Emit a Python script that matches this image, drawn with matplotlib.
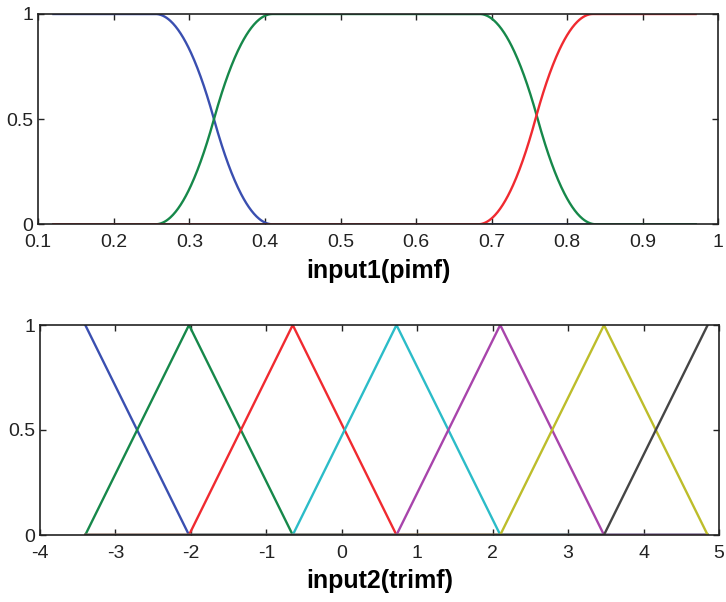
import numpy as np
import matplotlib
matplotlib.use("Agg")
import matplotlib.pyplot as plt

# ---- data ----
# input1: pi-shaped membership functions (range 0.12 .. 0.97)
in1_range = [0.12, 0.97]
in1_zmf = [0.255, 0.41]                 # blue (zmf: a, b)
in1_pimf = [0.255, 0.41, 0.684, 0.838]  # green (pimf: a, b, c, d)
in1_smf = [0.682, 0.834]                # red (smf: a, b)
in1_colors = ["#3a4fb0", "#16884a", "#f02a30"]
in1_xticks = [0.1, 0.2, 0.3, 0.4, 0.5, 0.6, 0.7, 0.8, 0.9, 1.0]
in1_xticklabels = ["0.1", "0.2", "0.3", "0.4", "0.5", "0.6", "0.7", "0.8", "0.9", "1"]

# input2: triangular membership functions, peaks (range -3.4 .. 4.85)
in2_range = [-3.4, 4.85]
in2_peaks = [-3.4, -2.025, -0.65, 0.725, 2.1, 3.475, 4.85]
in2_colors = ["#3a4fb0", "#16884a", "#f02a30", "#2bbcc8", "#a844ab", "#bdbd2a", "#454545"]
in2_xticks = [-4, -3, -2, -1, 0, 1, 2, 3, 4, 5]
in2_xticklabels = ["-4", "-3", "-2", "-1", "0", "1", "2", "3", "4", "5"]

y_ticks = [0, 0.5, 1]
y_ticklabels = ["0", "0.5", "1"]


def smf(x, a, b):
    m = (a + b) / 2.0
    y = np.zeros_like(x)
    y[x >= b] = 1.0
    i1 = (x > a) & (x <= m)
    y[i1] = 2 * ((x[i1] - a) / (b - a)) ** 2
    i2 = (x > m) & (x < b)
    y[i2] = 1 - 2 * ((x[i2] - b) / (b - a)) ** 2
    return y


def zmf(x, a, b):
    return 1.0 - smf(x, a, b)


def pimf(x, a, b, c, d):
    return np.minimum(smf(x, a, b), zmf(x, c, d))


def trimf(x, a, b, c):
    left = (x - a) / (b - a)
    right = (c - x) / (c - b)
    return np.clip(np.minimum(left, right), 0, 1)


plt.rcParams['font.family'] = ['Liberation Sans', 'DejaVu Sans']

fig = plt.figure(figsize=(7.26, 6.02), dpi=100)
W, H = 726.0, 602.0
ax1 = fig.add_axes([38.3 / W, 1 - 224.3 / H, 680 / W, 210.3 / H])
ax2 = fig.add_axes([40 / W, 1 - 535 / H, 679 / W, 210 / H])

lw = 1.7

# top plot
x1 = np.linspace(in1_range[0], in1_range[1], 1000)
ax1.plot(x1, zmf(x1, *in1_zmf), color=in1_colors[0], lw=lw)
ax1.plot(x1, pimf(x1, *in1_pimf), color=in1_colors[1], lw=lw)
ax1.plot(x1, smf(x1, *in1_smf), color=in1_colors[2], lw=lw)
ax1.set_xlim(0.1, 1.0)
ax1.set_xticks(in1_xticks)
ax1.set_xticklabels(in1_xticklabels)

# bottom plot
x2 = np.linspace(in2_range[0], in2_range[1], 2000)
step = in2_peaks[1] - in2_peaks[0]
for i, p in enumerate(in2_peaks):
    a = in2_peaks[i - 1] if i > 0 else p - step
    c = in2_peaks[i + 1] if i < len(in2_peaks) - 1 else p + step
    ax2.plot(x2, trimf(x2, a, p, c), color=in2_colors[i], lw=lw)
ax2.set_xlim(-4, 5)
ax2.set_xticks(in2_xticks)
ax2.set_xticklabels(in2_xticklabels)

for ax in (ax1, ax2):
    ax.set_ylim(0, 1)
    ax.set_yticks(y_ticks)
    ax.set_yticklabels(y_ticklabels)
    ax.tick_params(direction='in', length=4, width=1, top=True, right=True,
                   labelsize=14, colors='#222222')
    ax.tick_params(axis='x', pad=7)
    ax.tick_params(axis='y', pad=3.5)
    for s in ax.spines.values():
        s.set_color('#222222')
        s.set_linewidth(1.2)

ax1.set_xlabel("input1(pimf)", fontsize=18, fontweight='bold')
ax1.xaxis.set_label_coords(0.5, -0.165)
ax2.set_xlabel("input2(trimf)", fontsize=18, fontweight='bold')
ax2.xaxis.set_label_coords(0.5, -0.16)

fig.savefig("out.png", dpi=100)
